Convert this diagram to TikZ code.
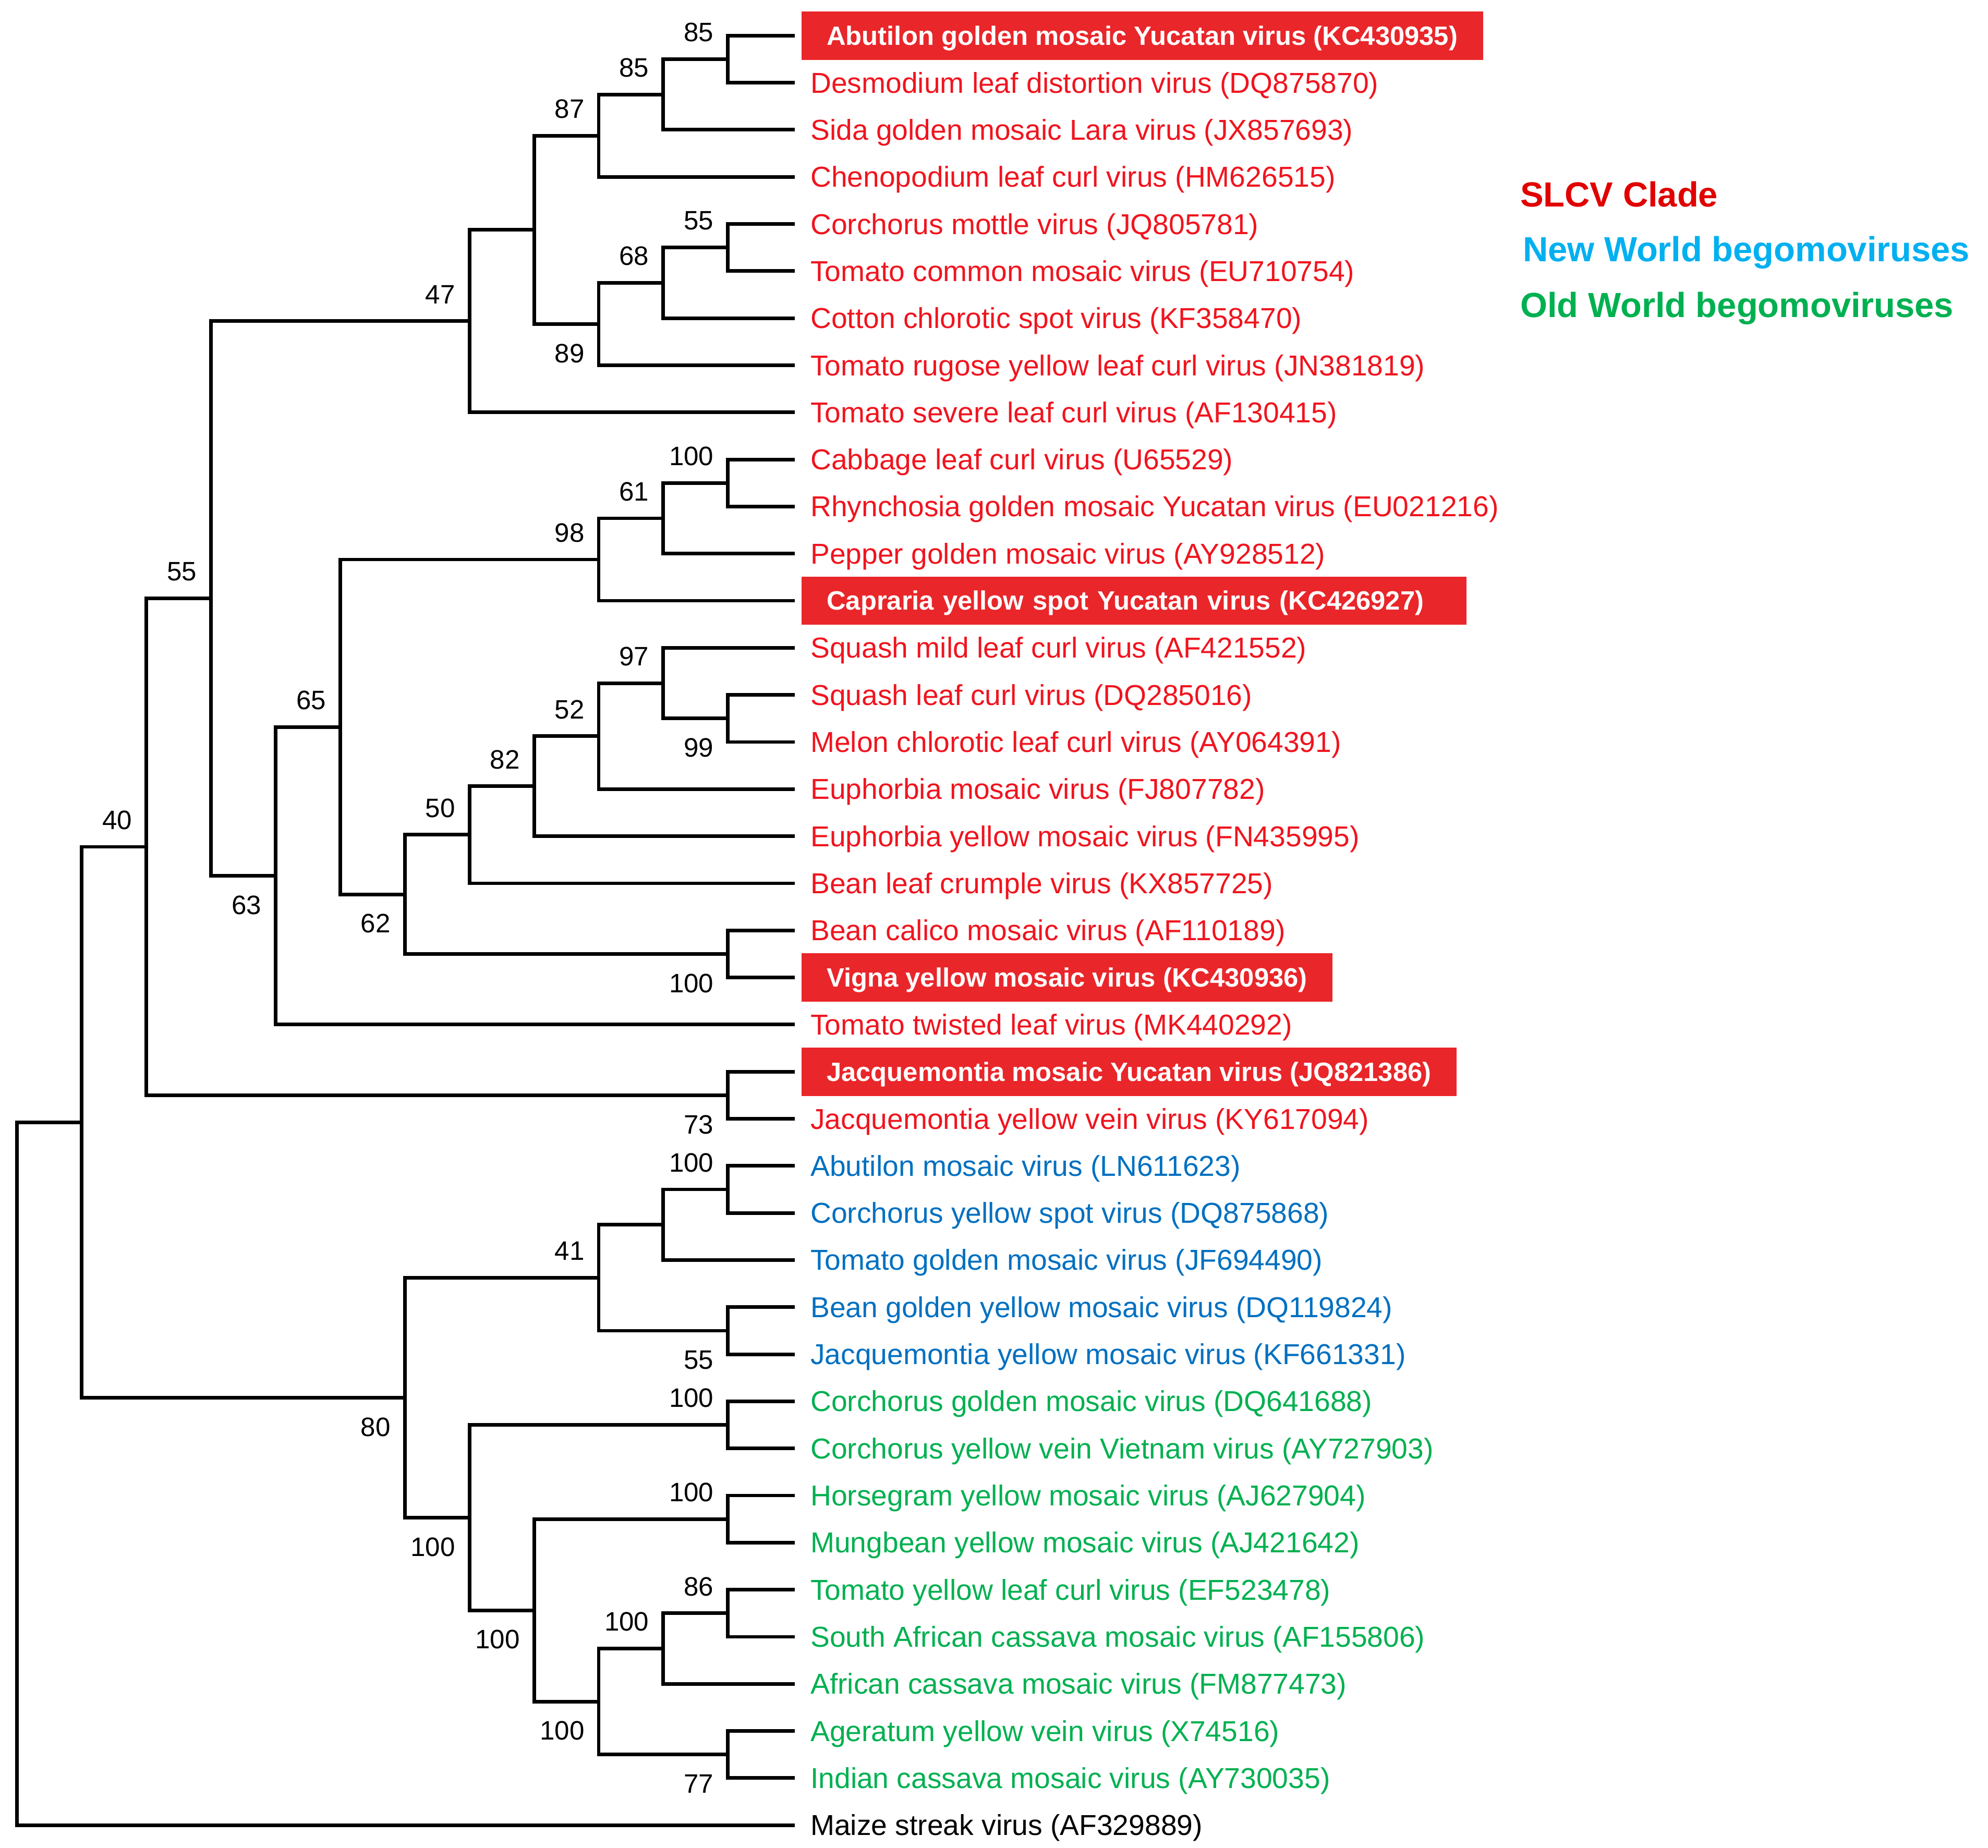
\documentclass[tikz,border=0pt]{standalone}
\usepackage{fontspec}
\setmainfont{Liberation Sans}
\usepackage{xcolor}
\usetikzlibrary{positioning}
\definecolor{slcvred}{RGB}{240,20,30}
\definecolor{nwblue}{RGB}{0,112,192}
\definecolor{owgreen}{RGB}{0,176,80}
\definecolor{boxred}{RGB}{233,38,42}
\definecolor{keyred}{RGB}{224,0,0}
\definecolor{keyblue}{RGB}{0,176,240}
\tikzset{branch/.style={line width=2pt, black},
    taxon/.style={anchor=west, inner xsep=3mm, inner ysep=0pt, text height=12pt, text depth=0.6pt, font=\fontsize{16.1}{19}\selectfont},
    slcv/.style={taxon, text=slcvred},
    nwb/.style={taxon, text=nwblue},
    owb/.style={taxon, text=owgreen},
    hlbox/.style={taxon, fill=boxred, text=white, font=\bfseries\fontsize{14.8}{18}\selectfont, inner xsep=5mm, outer xsep=1.25mm, minimum height=9.5mm, text height=11pt},
    bs/.style={inner sep=0pt, font=\fontsize{14.9}{18}\selectfont},
    bsup/.style={bs, left=2.75mm of #1, yshift=5.25mm},
    bsdown/.style={bs, left=2.75mm of #1, yshift=-5.75mm},
    keytext/.style={anchor=base west, inner sep=0pt, font=\bfseries\fontsize{19.5}{23}\selectfont}}

\begin{document}
\begin{tikzpicture}[x=0.25mm, y=-0.25mm]
    \useasboundingbox (0,0) rectangle (1563,1452.7);

    \node[hlbox] (abgmyuv) at (625,28.00) {Abutilon golden mosaic Yucatan virus (KC430935)};
    \node[slcv] (dldv) at (625,65.03) {Desmodium leaf distortion virus (DQ875870)};
    \node[slcv] (sigmlav) at (625,102.06) {Sida golden mosaic Lara virus (JX857693)};
    \node[slcv] (chlcv) at (625,139.09) {Chenopodium leaf curl virus (HM626515)};
    \node[slcv] (comov) at (625,176.12) {Corchorus mottle virus (JQ805781)};
    \node[slcv] (tocmv) at (625,213.15) {Tomato common mosaic virus (EU710754)};
    \node[slcv] (ccsv) at (625,250.18) {Cotton chlorotic spot virus (KF358470)};
    \node[slcv] (toryv) at (625,287.21) {Tomato rugose yellow leaf curl virus (JN381819)};
    \node[slcv] (toslcv) at (625,324.24) {Tomato severe leaf curl virus (AF130415)};
    \node[slcv] (cablcv) at (625,361.27) {Cabbage leaf curl virus (U65529)};
    \node[slcv] (rhgmyuv) at (625,398.30) {Rhynchosia golden mosaic Yucatan virus (EU021216)};
    \node[slcv] (pepgmv) at (625,435.33) {Pepper golden mosaic virus (AY928512)};
    \node[hlbox, text width=120.75mm, align=left] (cysyuv) at (625,472.36) {Capraria yellow spot Yucatan virus (KC426927)};
    \node[slcv] (smlcv) at (625,509.39) {Squash mild leaf curl virus (AF421552)};
    \node[slcv] (sqlcv) at (625,546.42) {Squash leaf curl virus (DQ285016)};
    \node[slcv] (mclcv) at (625,583.45) {Melon chlorotic leaf curl virus (AY064391)};
    \node[slcv] (eumv) at (625,620.48) {Euphorbia mosaic virus (FJ807782)};
    \node[slcv] (euymv) at (625,657.51) {Euphorbia yellow mosaic virus (FN435995)};
    \node[slcv] (blcrv) at (625,694.54) {Bean leaf crumple virus (KX857725)};
    \node[slcv] (bcamv) at (625,731.57) {Bean calico mosaic virus (AF110189)};
    \node[hlbox] (vymv) at (625,768.60) {Vigna yellow mosaic virus (KC430936)};
    \node[slcv] (totlv) at (625,805.63) {Tomato twisted leaf virus (MK440292)};
    \node[hlbox] (jmyuv) at (625,842.66) {Jacquemontia mosaic Yucatan virus (JQ821386)};
    \node[slcv] (jyvv) at (625,879.69) {Jacquemontia yellow vein virus (KY617094)};
    \node[nwb] (abmv) at (625,916.72) {Abutilon mosaic virus (LN611623)};
    \node[nwb] (coysv) at (625,953.75) {Corchorus yellow spot virus (DQ875868)};
    \node[nwb] (togmv) at (625,990.78) {Tomato golden mosaic virus (JF694490)};
    \node[nwb] (bgymv) at (625,1027.81) {Bean golden yellow mosaic virus (DQ119824)};
    \node[nwb] (jymv) at (625,1064.84) {Jacquemontia yellow mosaic virus (KF661331)};
    \node[owb] (cogmv) at (625,1101.87) {Corchorus golden mosaic virus (DQ641688)};
    \node[owb] (coyvvv) at (625,1138.90) {Corchorus yellow vein Vietnam virus (AY727903)};
    \node[owb] (hgymv) at (625,1175.93) {Horsegram yellow mosaic virus (AJ627904)};
    \node[owb] (mymv) at (625,1212.96) {Mungbean yellow mosaic virus (AJ421642)};
    \node[owb] (tylcv) at (625,1249.99) {Tomato yellow leaf curl virus (EF523478)};
    \node[owb] (sacmv) at (625,1287.02) {South African cassava mosaic virus (AF155806)};
    \node[owb] (acmv) at (625,1324.05) {African cassava mosaic virus (FM877473)};
    \node[owb] (ayvv) at (625,1361.08) {Ageratum yellow vein virus (X74516)};
    \node[owb] (icmv) at (625,1398.11) {Indian cassava mosaic virus (AY730035)};
    \node[taxon] (msv) at (625,1435.14) {Maize streak virus (AF329889)};

    \coordinate (c85a) at (572.3,46.52);
    \coordinate (c85b) at (521.5,74.29);
    \coordinate (c87) at (470.7,106.69);
    \coordinate (c55a) at (572.3,194.64);
    \coordinate (c68) at (521.5,222.41);
    \coordinate (c89) at (470.7,254.81);
    \coordinate (c0a) at (419.9,180.75);
    \coordinate (c47) at (369.1,252.50);
    \coordinate (c100a) at (572.3,379.79);
    \coordinate (c61) at (521.5,407.56);
    \coordinate (c98) at (470.7,439.96);
    \coordinate (c99) at (572.3,564.94);
    \coordinate (c97) at (521.5,537.16);
    \coordinate (c52) at (470.7,578.82);
    \coordinate (c82) at (419.9,618.17);
    \coordinate (c50) at (369.1,656.35);
    \coordinate (c100b) at (572.3,750.09);
    \coordinate (c62) at (318.3,703.22);
    \coordinate (c65) at (267.5,571.59);
    \coordinate (c63) at (216.7,688.61);
    \coordinate (c55b) at (165.9,470.56);
    \coordinate (c73) at (572.3,861.18);
    \coordinate (c40) at (115.1,665.87);
    \coordinate (c100c) at (572.3,935.24);
    \coordinate (c0b) at (521.5,963.01);
    \coordinate (c55c) at (572.3,1046.33);
    \coordinate (c41) at (470.7,1004.67);
    \coordinate (c100d) at (572.3,1120.39);
    \coordinate (c100e) at (572.3,1194.45);
    \coordinate (c86) at (572.3,1268.51);
    \coordinate (c100f) at (521.5,1296.28);
    \coordinate (c77) at (572.3,1379.60);
    \coordinate (c100g) at (470.7,1337.94);
    \coordinate (c100h) at (419.9,1266.20);
    \coordinate (c100i) at (369.1,1193.30);
    \coordinate (c80) at (318.3,1098.99);
    \coordinate (c0c) at (64.3,882.43);
    \coordinate (croot) at (13.5,1158.79);

    \draw[branch] (c85a) |- (abgmyuv.west) (c85a) |- (dldv.west);
    \draw[branch] (c85b) |- (c85a) (c85b) |- (sigmlav.west);
    \draw[branch] (c87) |- (c85b) (c87) |- (chlcv.west);
    \draw[branch] (c55a) |- (comov.west) (c55a) |- (tocmv.west);
    \draw[branch] (c68) |- (c55a) (c68) |- (ccsv.west);
    \draw[branch] (c89) |- (c68) (c89) |- (toryv.west);
    \draw[branch] (c0a) |- (c87) (c0a) |- (c89);
    \draw[branch] (c47) |- (c0a) (c47) |- (toslcv.west);
    \draw[branch] (c100a) |- (cablcv.west) (c100a) |- (rhgmyuv.west);
    \draw[branch] (c61) |- (c100a) (c61) |- (pepgmv.west);
    \draw[branch] (c98) |- (c61) (c98) |- (cysyuv.west);
    \draw[branch] (c99) |- (sqlcv.west) (c99) |- (mclcv.west);
    \draw[branch] (c97) |- (smlcv.west) (c97) |- (c99);
    \draw[branch] (c52) |- (c97) (c52) |- (eumv.west);
    \draw[branch] (c82) |- (c52) (c82) |- (euymv.west);
    \draw[branch] (c50) |- (c82) (c50) |- (blcrv.west);
    \draw[branch] (c100b) |- (bcamv.west) (c100b) |- (vymv.west);
    \draw[branch] (c62) |- (c50) (c62) |- (c100b);
    \draw[branch] (c65) |- (c98) (c65) |- (c62);
    \draw[branch] (c63) |- (c65) (c63) |- (totlv.west);
    \draw[branch] (c55b) |- (c47) (c55b) |- (c63);
    \draw[branch] (c73) |- (jmyuv.west) (c73) |- (jyvv.west);
    \draw[branch] (c40) |- (c55b) (c40) |- (c73);
    \draw[branch] (c100c) |- (abmv.west) (c100c) |- (coysv.west);
    \draw[branch] (c0b) |- (c100c) (c0b) |- (togmv.west);
    \draw[branch] (c55c) |- (bgymv.west) (c55c) |- (jymv.west);
    \draw[branch] (c41) |- (c0b) (c41) |- (c55c);
    \draw[branch] (c100d) |- (cogmv.west) (c100d) |- (coyvvv.west);
    \draw[branch] (c100e) |- (hgymv.west) (c100e) |- (mymv.west);
    \draw[branch] (c86) |- (tylcv.west) (c86) |- (sacmv.west);
    \draw[branch] (c100f) |- (c86) (c100f) |- (acmv.west);
    \draw[branch] (c77) |- (ayvv.west) (c77) |- (icmv.west);
    \draw[branch] (c100g) |- (c100f) (c100g) |- (c77);
    \draw[branch] (c100h) |- (c100e) (c100h) |- (c100g);
    \draw[branch] (c100i) |- (c100d) (c100i) |- (c100h);
    \draw[branch] (c80) |- (c41) (c80) |- (c100i);
    \draw[branch] (c0c) |- (c40) (c0c) |- (c80);
    \draw[branch] (croot) |- (c0c) (croot) |- (msv.west);

    \node[bsup=c85a] (bs85a) {85};
    \node[bsup=c85b] (bs85b) {85};
    \node[bsup=c87] (bs87) {87};
    \node[bsup=c55a] (bs55a) {55};
    \node[bsup=c68] (bs68) {68};
    \node[bsdown=c89] (bs89) {89};
    \node[bsup=c47] (bs47) {47};
    \node[bsup=c100a] (bs100a) {100};
    \node[bsup=c61] (bs61) {61};
    \node[bsup=c98] (bs98) {98};
    \node[bsdown=c99] (bs99) {99};
    \node[bsup=c97] (bs97) {97};
    \node[bsup=c52] (bs52) {52};
    \node[bsup=c82] (bs82) {82};
    \node[bsup=c50] (bs50) {50};
    \node[bsdown=c100b] (bs100b) {100};
    \node[bsdown=c62] (bs62) {62};
    \node[bsup=c65] (bs65) {65};
    \node[bsdown=c63] (bs63) {63};
    \node[bsup=c55b] (bs55b) {55};
    \node[bsdown=c73] (bs73) {73};
    \node[bsup=c40] (bs40) {40};
    \node[bsup=c100c] (bs100c) {100};
    \node[bsdown=c55c] (bs55c) {55};
    \node[bsup=c41] (bs41) {41};
    \node[bsup=c100d] (bs100d) {100};
    \node[bsup=c100e] (bs100e) {100};
    \node[bsup=c86] (bs86) {86};
    \node[bsup=c100f] (bs100f) {100};
    \node[bsdown=c77] (bs77) {77};
    \node[bsdown=c100g] (bs100g) {100};
    \node[bsdown=c100h] (bs100h) {100};
    \node[bsdown=c100i] (bs100i) {100};
    \node[bsdown=c80] (bs80) {80};

    \node[keytext, text=keyred] (slcvkey) at (1195,162.6) {SLCV Clade};
    \node[keytext, text=keyblue] (nwkey) at (1197,205.8) {New World begomoviruses};
    \node[keytext, text=owgreen] (owkey) at (1195,249.3) {Old World begomoviruses};
\end{tikzpicture}
\end{document}
